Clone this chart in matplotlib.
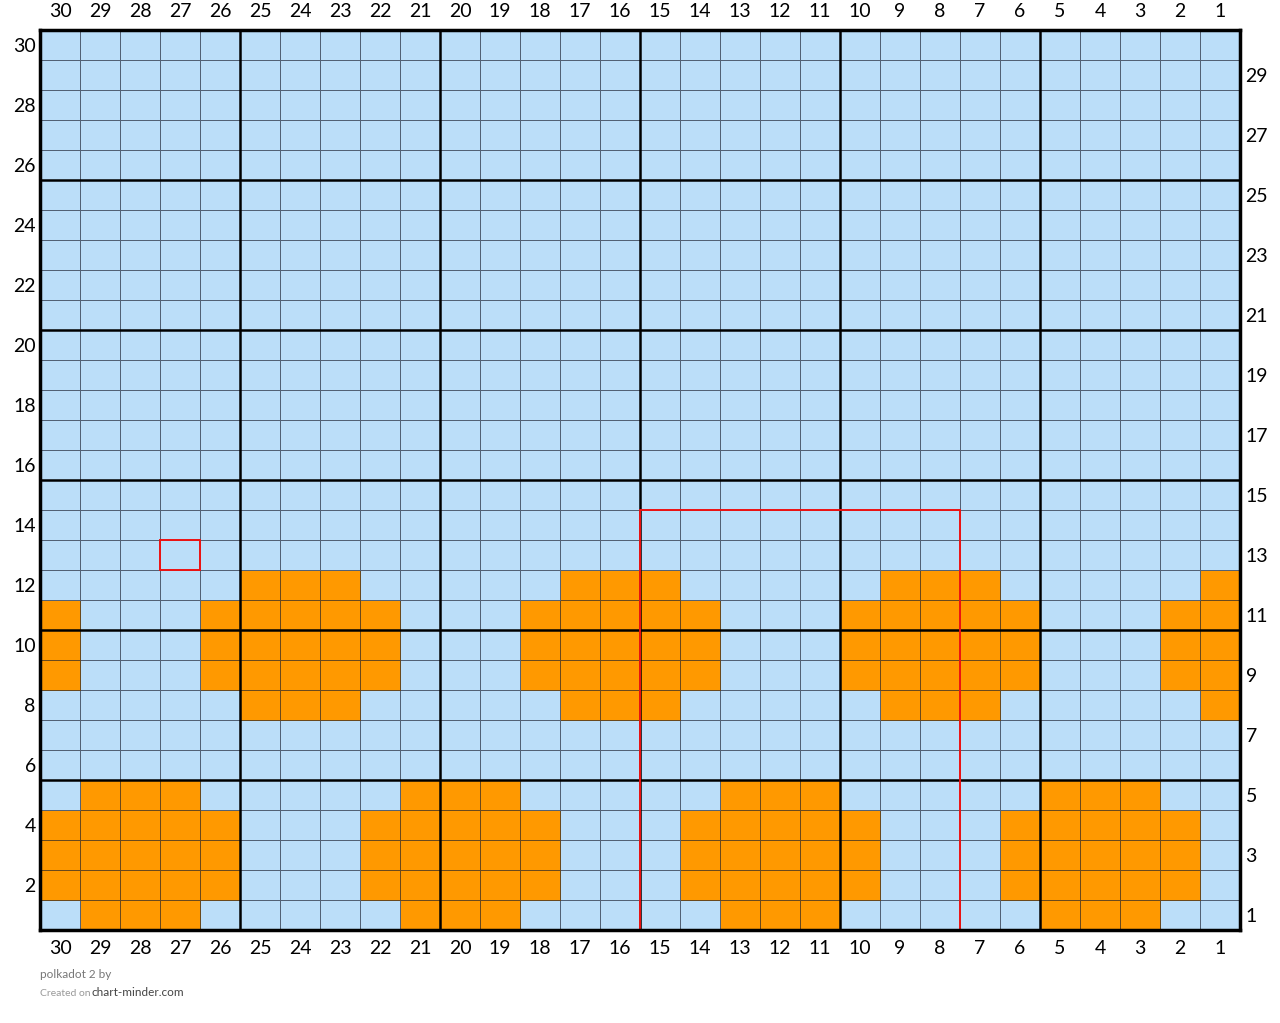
import numpy as np
import matplotlib
matplotlib.use('Agg')
import matplotlib.pyplot as plt
from matplotlib.colors import ListedColormap
from matplotlib.patches import Rectangle

plt.rcParams['font.family'] = ['Lato', 'DejaVu Sans']

n_cols = 30
n_rows = 30

# orange stitches per row (row number -> column numbers)
dots_upper_edge = [25, 24, 23, 17, 16, 15, 9, 8, 7, 1]
dots_upper_mid = [30, 26, 25, 24, 23, 22, 18, 17, 16, 15, 14, 10, 9, 8, 7, 6, 2, 1]
dots_lower_edge = [29, 28, 27, 21, 20, 19, 13, 12, 11, 5, 4, 3]
dots_lower_mid = [30, 29, 28, 27, 26, 22, 21, 20, 19, 18, 14, 13, 12, 11, 10, 6, 5, 4, 3, 2]

orange_rows = {
    12: dots_upper_edge,
    11: dots_upper_mid,
    10: dots_upper_mid,
    9: dots_upper_mid,
    8: dots_upper_edge,
    5: dots_lower_edge,
    4: dots_lower_mid,
    3: dots_lower_mid,
    2: dots_lower_mid,
    1: dots_lower_edge,
}

# red highlight boxes: (first col, last col, first row, last row)
highlights = [(27, 27, 13, 13), (8, 15, 1, 14)]

grid = np.zeros((n_rows, n_cols))
for r, cols in orange_rows.items():
    for c in cols:
        grid[r - 1, c - 1] = 1

fig = plt.figure(figsize=(12.8, 10.23), dpi=100)
ax = fig.add_axes([40 / 1280, 93 / 1023, 1200 / 1280, 900 / 1023])

cmap = ListedColormap(['#bbdef9', '#ff9900'])
edges_x = np.arange(0.5, n_cols + 1, 1)
edges_y = np.arange(0.5, n_rows + 1, 1)
ax.pcolormesh(edges_x, edges_y, grid, cmap=cmap, vmin=0, vmax=1,
              edgecolors=(0.1, 0.12, 0.18, 0.65), linewidth=0.55)

# every 5th line heavier
for k in range(0, 31, 5):
    ax.axvline(k + 0.5, color='black', lw=1.8, zorder=3)
    ax.axhline(k + 0.5, color='black', lw=1.8, zorder=3)

for c0, c1, r0, r1 in highlights:
    ax.add_patch(Rectangle((c0 - 0.5, r0 - 0.5), c1 - c0 + 1, r1 - r0 + 1,
                           fill=False, edgecolor='#ee1111', lw=1.4, zorder=4))

ax.set_xlim(n_cols + 0.5, 0.5)
ax.set_ylim(0.5, n_rows + 0.5)
for s in ax.spines.values():
    s.set_linewidth(2.5)
    s.set_zorder(5)

ax.set_xticks(range(1, n_cols + 1))
ax.set_xticklabels([str(c) for c in range(1, n_cols + 1)])
ax.set_yticks(range(2, n_rows + 1, 2))
ax.set_yticklabels([str(r) for r in range(2, n_rows + 1, 2)])
ax.tick_params(axis='x', top=True, labeltop=True, bottom=True, labelbottom=True,
               length=0, pad=7, labelsize=14)
ax.tick_params(axis='y', length=0, pad=3, labelsize=14)

ax2 = ax.secondary_yaxis('right')
ax2.set_yticks(range(1, n_rows + 1, 2))
ax2.set_yticklabels([str(r) for r in range(1, n_rows + 1, 2)])
ax2.tick_params(length=0, pad=4, labelsize=14)
ax2.spines['right'].set_visible(False)

fig.text(40 / 1280, 1 - 975 / 1023, 'polkadot 2 by', fontsize=8.5, color='#777777', va='center')
fig.text(40 / 1280, 1 - 993 / 1023, 'Created on', fontsize=7.5, color='#999999', va='center')
fig.text(92 / 1280, 1 - 993 / 1023, 'chart-minder.com', fontsize=8.5, color='#444444', va='center')

fig.savefig('out.png', dpi=100)
